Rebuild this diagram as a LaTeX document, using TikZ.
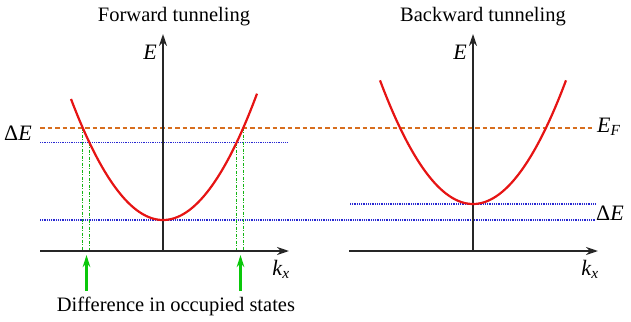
\documentclass[tikz,border=0pt]{standalone}
\usepackage{fontspec}
\setmainfont{Liberation Serif}
\usetikzlibrary{arrows.meta}
\definecolor{fermicol}{RGB}{215,110,30}
\definecolor{levelcol}{RGB}{40,40,210}
\definecolor{occcol}{RGB}{20,180,20}
\definecolor{arrcol}{RGB}{10,200,10}
\definecolor{bandcol}{RGB}{230,20,20}
\begin{document}
\begin{tikzpicture}[x=1pt,y=-1pt,
  axis/.style={line width=2.3pt,black!85,-{Stealth[length=12pt,width=8pt]}},
  band/.style={line width=2.2pt,bandcol},
  fermi/.style={line width=2pt,fermicol,dash pattern=on 4.5pt off 3pt},
  level/.style={line width=1.5pt,levelcol,dash pattern=on 1pt off 0.8pt},
  occ/.style={line width=1pt,occcol,dash pattern=on 3pt off 1.5pt on 1pt off 1.5pt},
  garrow/.style={line width=2.1pt,arrcol,-{Stealth[length=12pt,width=7.5pt]}},
  lbl/.style={font=\fontsize{20.5}{24}\selectfont,inner sep=0pt},
  sym/.style={font=\fontsize{22}{26}\selectfont,inner sep=0pt}]
\useasboundingbox (0,0) rectangle (631,321);
% coordinates
\coordinate (LO) at (163,251);
\coordinate (LEtop) at (163,34);
\coordinate (LKl) at (40,251);
\coordinate (LKr) at (289,251);
\coordinate (RO) at (473,251);
\coordinate (REtop) at (473,34);
\coordinate (RKl) at (349,251);
\coordinate (RKr) at (598,251);
% levels
\coordinate (EFl) at (40,127.5);
\coordinate (EFr) at (595,127.5);
\coordinate (U1l) at (40,142.5);
\coordinate (U1r) at (288,142.5);
\coordinate (Lowl) at (40,220);
\coordinate (Lowr) at (596,220);
\coordinate (U2l) at (350,204);
\coordinate (U2r) at (596,204);
\draw[fermi] (EFl) -- (EFr);
\draw[level] (U1l) -- (U1r);
\draw[level] (Lowl) -- (Lowr);
\draw[level] (U2l) -- (U2r);
% green occupied-state lines
\coordinate (g1t) at (82.6,127.5); \coordinate (g1b) at (82.6,251);
\coordinate (g2t) at (89.8,142.5); \coordinate (g2b) at (89.8,251);
\coordinate (g3t) at (236.6,142.5); \coordinate (g3b) at (236.6,251);
\coordinate (g4t) at (243.4,127.5); \coordinate (g4b) at (243.4,251);
\draw[occ] (g1t) -- (g1b);
\draw[occ] (g2t) -- (g2b);
\draw[occ] (g3t) -- (g3b);
\draw[occ] (g4t) -- (g4b);
% axes
\draw[axis] (LKl) -- (LKr);
\draw[axis] (LO) -- (LEtop);
\draw[axis] (RKl) -- (RKr);
\draw[axis] (RO) -- (REtop);
% parabolas
\draw[band] plot[domain=71:257,samples=80,smooth] (\x,{220-0.0143*(\x-163)^2});
\draw[band] plot[domain=380:566,samples=80,smooth] (\x,{204-0.0143*(\x-473)^2});
% green arrows
\coordinate (a1s) at (86.5,291); \coordinate (a1e) at (86.5,255);
\coordinate (a2s) at (240.5,291); \coordinate (a2e) at (240.5,255);
\draw[garrow] (a1s) -- (a1e);
\draw[garrow] (a2s) -- (a2e);
% labels
\node[lbl] (t1) at (174,17) {Forward tunneling};
\node[lbl] (t2) at (483,17) {Backward tunneling};
\node[sym] (e1) at (150,52) {\textit{E}};
\node[sym] (e2) at (460,52) {\textit{E}};
\node[sym] (k1) at (281,269) {\textit{k}\textsubscript{\textit{x}}};
\node[sym] (k2) at (590,269) {\textit{k}\textsubscript{\textit{x}}};
\node[sym,anchor=east] (dE1) at (32,133) {Δ\textit{E}};
\node[sym,anchor=west] (EF) at (597,127) {\textit{E}\textsubscript{\textit{F}}};
\node[sym,anchor=west] (dE2) at (596,213) {Δ\textit{E}};
\node[lbl] (diff) at (176,306) {Difference in occupied states};
\end{tikzpicture}
\end{document}
